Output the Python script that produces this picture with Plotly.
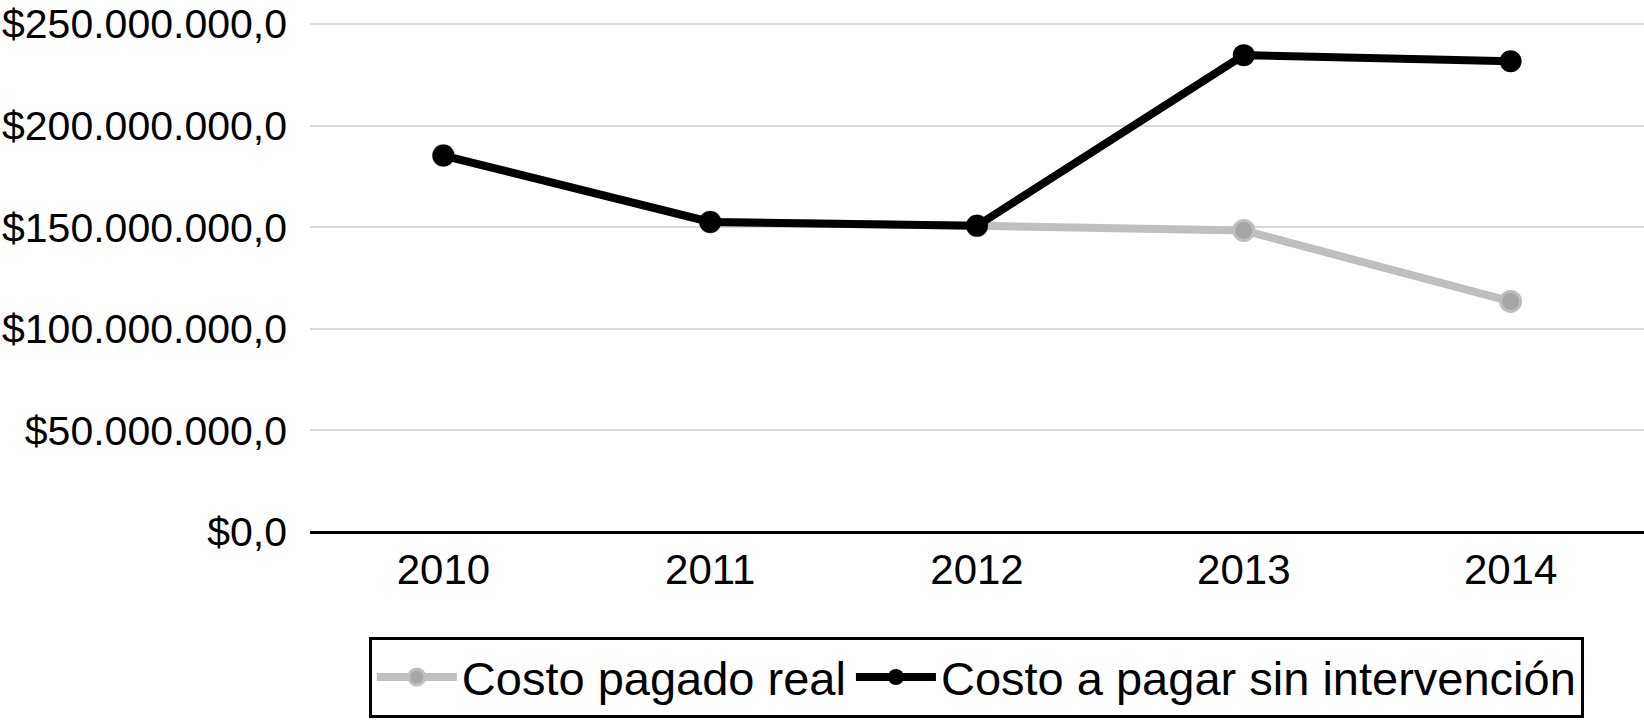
import plotly.graph_objects as go

years = ["2010", "2011", "2012", "2013", "2014"]
costo_real = [185.3e6, 152.6e6, 150.7e6, 148.4e6, 113.5e6]
costo_sin = [185.3e6, 152.6e6, 150.7e6, 234.7e6, 231.7e6]
y_ticks = [0, 50e6, 100e6, 150e6, 200e6, 250e6]
series_names = ["Costo pagado real", "Costo a pagar sin intervención"]


def fmt_money(v):
    s = f"{v:,.1f}"  # 250,000,000.0
    s = s.replace(",", "X").replace(".", ",").replace("X", ".")
    return "$" + s


y_ticktext = [fmt_money(v) for v in y_ticks]

fig = go.Figure()
fig.add_trace(go.Scatter(
    x=years, y=costo_real, name=series_names[0], mode="lines+markers",
    line=dict(color="#bfbfbf", width=8),
    marker=dict(size=20, color="#a6a6a6", line=dict(color="#bfbfbf", width=3)),
))
fig.add_trace(go.Scatter(
    x=years, y=costo_sin, name=series_names[1], mode="lines+markers",
    line=dict(color="#000000", width=8),
    marker=dict(size=22, color="#000000"),
))

fig.update_layout(
    width=1644, height=720,
    margin=dict(l=310, r=0, t=20, b=188, autoexpand=False),
    paper_bgcolor="white", plot_bgcolor="white",
    font=dict(family="Liberation Sans, Arial, sans-serif", size=41, color="black"),
    showlegend=True,
    legend=dict(
        orientation="h", x=0.4995, xanchor="center", y=-0.205, yanchor="top",
        bordercolor="black", borderwidth=3, font=dict(size=47),
        traceorder="normal", itemsizing="trace", itemwidth=80,
    ),
    xaxis=dict(
        type="category", range=[-0.5, 4.5], showgrid=False,
        showline=False, ticks="", zeroline=False, automargin=False,
        ticklabelstandoff=9,
        tickfont=dict(size=42),
    ),
    yaxis=dict(
        range=[0, 252e6], tickvals=y_ticks, ticktext=y_ticktext,
        showgrid=True, gridcolor="#d9d9d9", gridwidth=2,
        zeroline=True, zerolinecolor="black", zerolinewidth=3,
        showline=False, ticks="", ticklabelstandoff=22, automargin=False,
        ticklabeloverflow="allow",
        tickfont=dict(size=41),
    ),
)

fig.write_html("out.html", config={"displayModeBar": False},
               post_script="document.body.style.margin='0';")
